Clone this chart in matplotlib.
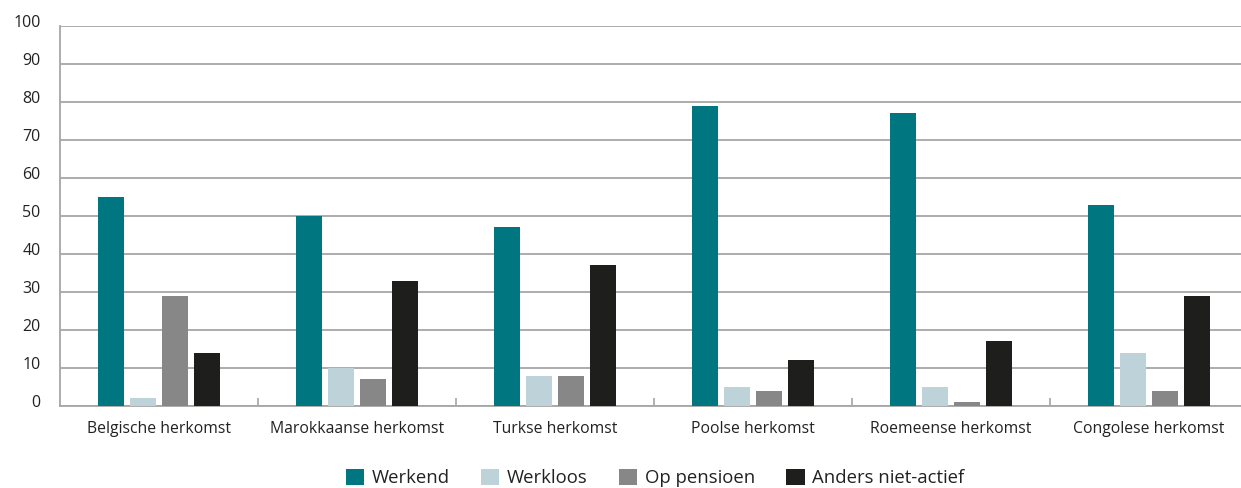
import numpy as np
import matplotlib
matplotlib.use('agg')
import matplotlib.pyplot as plt
import matplotlib.transforms as mtransforms

categories = ['Belgische herkomst', 'Marokkaanse herkomst', 'Turkse herkomst',
              'Poolse herkomst', 'Roemeense herkomst', 'Congolese herkomst']
werkend = [55, 50, 47, 79, 77, 53]
werkloos = [2, 10, 8, 5, 5, 14]
op_pensioen = [29, 7, 8, 4, 1, 4]
anders = [14, 33, 37, 12, 17, 29]

series = [('Werkend', werkend, '#007681'),
          ('Werkloos', werkloos, '#BDD2D9'),
          ('Op pensioen', op_pensioen, '#878787'),
          ('Anders niet-actief', anders, '#1E1E1C')]

plt.rcParams['font.family'] = ['Open Sans', 'DejaVu Sans']

W, H = 1241, 488
fig = plt.figure(figsize=(W / 100, H / 100), dpi=100)
ax = fig.add_axes([60 / W, (H - 406) / H, 1188 / W, 380 / H])

x = np.arange(len(categories))
step = 32 / 198
width = 26 / 198
for i, (name, vals, color) in enumerate(series):
    ax.bar(x + (i - 1.5) * step, vals, width, color=color, label=name, zorder=3)

ax.set_xlim(-0.5, len(categories) - 0.5)
ax.set_ylim(0, 100)
ax.set_yticks(range(0, 101, 10))
ax.set_xticks(x)
ax.set_xticklabels(categories, fontsize=11.3, color='#222222')
ax.set_xticks(np.arange(0.5, len(categories) - 0.5, 1), minor=True)
ax.tick_params(axis='x', which='major', length=0, pad=11)
ax.tick_params(axis='x', which='minor', direction='in', length=6, width=1.2, color='#A6A6A6')
ax.tick_params(axis='y', length=0, pad=14, labelsize=11.5, labelcolor='#222222')
# labels sit slightly above their gridline
shift = mtransforms.ScaledTranslation(0, 5 / 100, fig.dpi_scale_trans)
for lab in ax.get_yticklabels():
    lab.set_transform(lab.get_transform() + shift)

ax.grid(axis='y', color='#A6A6A6', linewidth=1.3, zorder=0)
for side in ['top', 'right']:
    ax.spines[side].set_visible(False)
for side in ['left', 'bottom']:
    ax.spines[side].set_color('#A6A6A6')
    ax.spines[side].set_linewidth(1.3)

fig.legend(loc='center', bbox_to_anchor=(655 / W, 1 - 478 / H), ncol=4, frameon=False,
           fontsize=13.3, handlelength=1.0, handleheight=1.0, handletextpad=0.4,
           columnspacing=1.7, labelcolor='#222222')

fig.savefig('out.png', dpi=100)
